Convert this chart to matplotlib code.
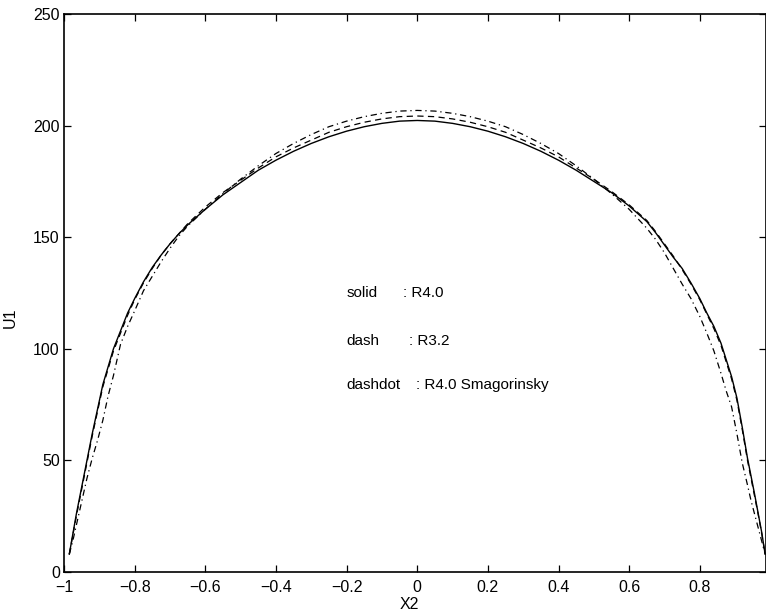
import numpy as np
import matplotlib
matplotlib.use("Agg")
import matplotlib.pyplot as plt

plt.rcParams['font.family'] = ['Liberation Sans', 'DejaVu Sans']

# mean streamwise velocity across the channel, three runs
x2 = [-0.985, -0.975, -0.965, -0.955, -0.945, -0.935, -0.92, -0.905, -0.89, -0.875,
      -0.86, -0.84, -0.82, -0.80, -0.775, -0.75, -0.725, -0.70, -0.675, -0.65,
      -0.60, -0.55, -0.50, -0.45, -0.40, -0.35, -0.30, -0.25, -0.20, -0.15,
      -0.10, -0.05, 0.0,
      0.05, 0.10, 0.15, 0.20, 0.25, 0.30, 0.35, 0.40, 0.45, 0.50,
      0.55, 0.60, 0.65, 0.675, 0.70, 0.725, 0.75, 0.775, 0.80, 0.82,
      0.84, 0.86, 0.875, 0.89, 0.905, 0.92, 0.935, 0.945, 0.955, 0.965,
      0.975, 0.985]

u1_r40 = [8, 17, 26, 34, 42, 50, 62, 73, 84, 92,
          100, 108, 116, 122.5, 130, 136.5, 142, 147, 151.5, 155.5,
          162.5, 169, 174.5, 180, 184.5, 188.5, 192, 195, 197.5, 199.5,
          201, 202, 202.3,
          202, 201, 199.5, 197.5, 195, 192, 188.5, 184.5, 180, 175,
          170, 164, 157, 152, 146.5, 141, 136, 129.5, 122.5, 116,
          110, 102.5, 95, 87.5, 78, 65, 51, 43, 35, 26.5,
          18, 8]

u1_r32 = [8, 16.5, 25, 33, 41, 49, 61, 72, 83, 91,
          99, 107, 115, 122, 129.5, 136, 142, 147, 151.5, 156,
          163.5, 170, 175.5, 181, 186, 190, 193.5, 197, 199.5, 201.5,
          203, 204, 204.3,
          204, 203, 201.5, 199.5, 197, 193.5, 190, 186, 181, 176,
          170.5, 164.5, 157.5, 152.5, 147, 141.5, 135.5, 129, 122, 115.5,
          109, 101.5, 94, 86.5, 77, 64, 50, 42, 34, 26,
          17.5, 8]

u1_smag = [8, 14, 21, 28, 35, 42, 51, 59, 68, 79,
           88, 102, 110, 117, 126, 132.5, 139, 145, 150.5, 155,
           162.5, 169.5, 176, 182, 187.5, 192, 196, 199.5, 202, 204,
           205.5, 206.5, 206.8,
           206.5, 205.5, 204, 202, 199.5, 196, 192, 187.5, 182, 176,
           169.5, 162.5, 154, 149, 143, 136, 129, 122.5, 114.5, 107,
           99, 89, 81, 74, 62, 49, 39, 32, 26, 20,
           14, 8]

xticks = [-1, -0.8, -0.6, -0.4, -0.2, 0, 0.2, 0.4, 0.6, 0.8]
xtick_labels = ['\u22121', '\u22120.8', '\u22120.6', '\u22120.4', '\u22120.2',
                '0', '0.2', '0.4', '0.6', '0.8']
yticks = [0, 50, 100, 150, 200, 250]

fig = plt.figure(figsize=(7.66, 6.16), dpi=100)
ax = fig.add_axes([64 / 766, 44 / 616, 701.5 / 766, 558 / 616])

ax.plot(x2, u1_r40, color='k', lw=1.0, linestyle='-')
ax.plot(x2, u1_r32, color='k', lw=0.9, linestyle=(0, (5, 3.5)))
ax.plot(x2, u1_smag, color='k', lw=0.9, linestyle=(0, (5, 3, 1, 3)))

ax.set_xlim(-1, 0.986)
ax.set_ylim(0, 250)
ax.set_xticks(xticks)
ax.set_xticklabels(xtick_labels)
ax.set_yticks(yticks)
ax.tick_params(direction='in', length=5, width=0.9, labelsize=11.5,
               top=True, right=True)
ax.tick_params(axis='x', pad=6)
ax.tick_params(axis='y', pad=3)
for s in ax.spines.values():
    s.set_linewidth(1.2)

ax.set_xlabel('X2', fontsize=11.5)
ax.set_ylabel('U1', fontsize=11.5)
ax.xaxis.set_label_coords((409 - 64) / 701.5, -(597 - 572) / 558)
ax.yaxis.set_label_coords(-(64 - 18) / 701.5, (572 - 318) / 558)

# line style key
ax.text(-0.2, 125, 'solid', fontsize=11, va='center')
ax.text(-0.041, 125, ': R4.0', fontsize=11, va='center')
ax.text(-0.2, 103.5, 'dash', fontsize=11, va='center')
ax.text(-0.0235, 103.5, ': R3.2', fontsize=11, va='center')
ax.text(-0.2, 84, 'dashdot', fontsize=11, va='center')
ax.text(-0.004, 84, ': R4.0 Smagorinsky', fontsize=11, va='center')

fig.savefig('out.png', dpi=100)
